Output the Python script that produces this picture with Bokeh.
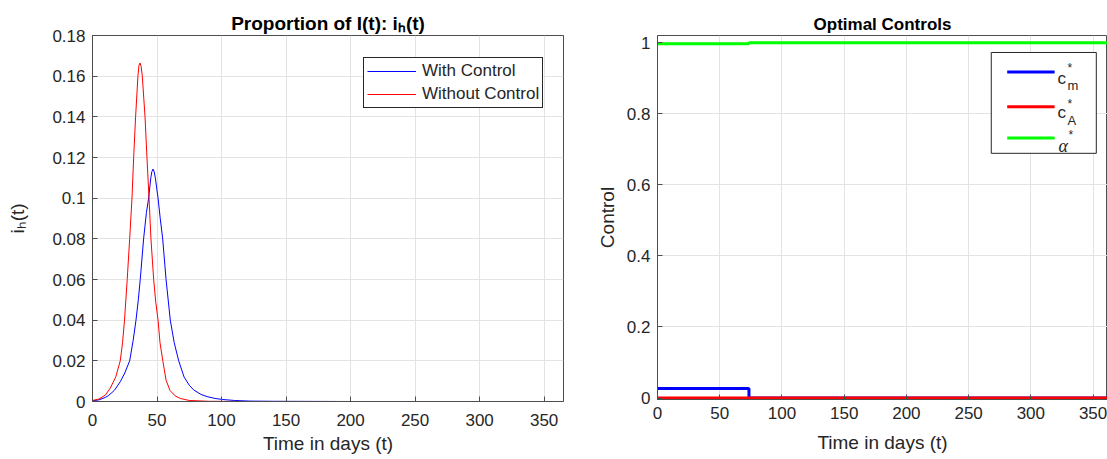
from math import pi
from bokeh.plotting import figure
from bokeh.layouts import row
from bokeh.models import Range1d, FixedTicker, Legend, LegendItem, Label, BoxAnnotation
from bokeh.core.properties import value
from bokeh.embed import file_html
from bokeh.resources import INLINE

# ---------------- data ----------------
# Left panel: proportion of infected humans i_h(t)
t_with = [0, 5, 10, 12.4, 17, 21.5, 25, 28.8, 31.5, 33.7,
          35.5, 37.0, 39.6, 41.8, 43.5, 45.2, 46.0, 46.9, 47.8, 48.7,
          50.8, 52.5, 54.4, 57.0, 60.3, 63.3, 66.8, 71.0, 75.0, 78.4,
          84.0, 88.8, 95.0, 100.5, 110.0, 122.0, 140.0, 200.0, 365.0]
ih_with = [0.0003, 0.0008, 0.0020, 0.0029, 0.0055, 0.0097, 0.0140, 0.0200, 0.0300, 0.0400,
           0.0500, 0.0600, 0.0800, 0.0930, 0.1000, 0.1100, 0.1130, 0.1143, 0.1130, 0.1100,
           0.1000, 0.0900, 0.0800, 0.0600, 0.0400, 0.0290, 0.0200, 0.0120, 0.0080, 0.0057,
           0.0035, 0.0024, 0.0015, 0.0010, 0.0005, 0.0002, 0.0001, 0.0, 0.0]

t_without = [0, 5, 10, 13.7, 18, 21.5, 23.3, 24.8, 26.9, 28.8,
             30.6, 31.9, 33.4, 35.2, 36.0, 36.8, 37.7, 38.6, 40.7, 42.2,
             43.8, 45.3, 47.4, 49.0, 50.8, 52.3, 54.5, 57.0, 60.0, 64.0,
             68.0, 75.0, 90.0, 120.0, 200.0, 365.0]
ih_without = [0.0005, 0.0012, 0.0032, 0.0065, 0.0120, 0.0200, 0.0290, 0.0400, 0.0600, 0.0800,
              0.1000, 0.1200, 0.1400, 0.1600, 0.1652, 0.1665, 0.1648, 0.1600, 0.1400, 0.1200,
              0.1000, 0.0800, 0.0600, 0.0490, 0.0400, 0.0290, 0.0200, 0.0105, 0.0055, 0.0028,
              0.0015, 0.0005, 0.0001, 0.0, 0.0, 0.0]

# Right panel: optimal controls (piecewise constant)
t_ctrl = [0, 73.5, 365]
cm_star = [0.027, 0.0, 0.0]
cA_star = [0.0, 0.0, 0.0]
alpha_star = [0.997, 1.0, 1.0]

x_ticks = [0, 50, 100, 150, 200, 250, 300, 350]
x_tick_labels = ["0", "50", "100", "150", "200", "250", "300", "350"]
ih_ticks = [0, 0.02, 0.04, 0.06, 0.08, 0.1, 0.12, 0.14, 0.16, 0.18]
ih_tick_labels = ["0", "0.02", "0.04", "0.06", "0.08", "0.1", "0.12", "0.14", "0.16", "0.18"]
ctrl_ticks = [0, 0.2, 0.4, 0.6, 0.8, 1]
ctrl_tick_labels = ["0", "0.2", "0.4", "0.6", "0.8", "1"]

# ---------------- style ----------------
FONT = "Liberation Sans"
TXT = "#262626"
AX = "#4d4d4d"
GRID = "#e3e3e3"
BLUE, RED, GREEN = "#0000ff", "#ff0000", "#00ff00"


def make_fig(fw, fh, xr, yr, mbl, mbr, yt, ylabs, xstand, title, tsize, ystand=7):
    p = figure(frame_width=fw, frame_height=fh, x_range=Range1d(*xr), y_range=Range1d(*yr),
               output_backend="svg", toolbar_location=None, title=title,
               min_border_left=mbl, min_border_right=mbr, min_border_top=35, min_border_bottom=40,
               background_fill_color="white", border_fill_color="white")
    p.outline_line_color = AX
    p.outline_line_width = 1
    p.title.text_font = FONT
    p.title.text_font_size = tsize
    p.title.text_font_style = "bold"
    p.title.text_color = "#000000"
    p.title.align = "center"
    p.title.standoff = 4
    xb, yl = p.below[0], p.left[0]
    xb.ticker = FixedTicker(ticks=x_ticks)
    xb.major_label_overrides = {float(k): s for k, s in zip(x_ticks, x_tick_labels)}
    yl.ticker = FixedTicker(ticks=yt)
    yl.major_label_overrides = {float(k): s for k, s in zip(yt, ylabs)}
    for ax in (xb, yl):
        ax.major_tick_in = 5
        ax.major_tick_out = 0
        ax.minor_tick_in = 0
        ax.minor_tick_out = 0
        ax.axis_line_color = AX
        ax.major_tick_line_color = AX
        ax.major_label_text_font = FONT
        ax.major_label_text_font_size = "17px"
        ax.major_label_text_color = TXT
        ax.axis_label_text_font = FONT
        ax.axis_label_text_font_size = "19px"
        ax.axis_label_text_font_style = "normal"
        ax.axis_label_text_color = TXT
    xb.major_label_standoff = xstand
    yl.major_label_standoff = ystand
    p.xgrid.ticker = FixedTicker(ticks=x_ticks)
    p.ygrid.ticker = FixedTicker(ticks=yt)
    p.grid.grid_line_color = GRID
    p.grid.grid_line_width = 1
    return p


def txt(p, x, y, s, size, style="normal", align="left", font=FONT):
    p.add_layout(Label(x=x, y=y, text=s, text_font=font, text_font_size=size,
                       text_font_style=style, text_color=TXT,
                       text_align=align, text_baseline="alphabetic"))


# ---------------- left panel ----------------
p1 = make_fig(471, 366, (0, 365), (0, 0.18), 92, 11, ih_ticks, ih_tick_labels,
              xstand=12, title="Proportion of I(t): i\u2095(t)", tsize="19px")
p1.below[0].axis_label = "Time in days (t)"
p1.below[0].axis_label_standoff = 4
p1.left[0].axis_label = "i\u2095(t)"
p1.left[0].axis_label_standoff = 21

r_with = p1.line(t_with, ih_with, line_color=BLUE, line_width=1)
r_without = p1.line(t_without, ih_without, line_color=RED, line_width=1)

leg = Legend(items=[LegendItem(label=value("With Control"), renderers=[r_with]),
                    LegendItem(label=value("Without Control"), renderers=[r_without])],
             location=(271, 293), orientation="vertical",
             label_text_font=FONT, label_text_font_size="17px", label_text_color=TXT,
             border_line_color=TXT, border_line_width=1, border_line_alpha=1,
             background_fill_color="white", background_fill_alpha=1,
             padding=3, spacing=3, margin=0, glyph_width=49, glyph_height=20,
             label_height=20, label_standoff=6)
p1.add_layout(leg)

# ---------------- right panel ----------------
p2 = make_fig(450, 364, (0, 361.6), (-0.0042, 1.0203), 83, 0, ctrl_ticks, ctrl_tick_labels,
              xstand=7, title="Optimal Controls", tsize="17px")
p2.below[0].axis_label = "Time in days (t)"
p2.below[0].axis_label_standoff = 10
p2.left[0].axis_label = "Control"
p2.left[0].axis_label_standoff = 6

p2.step(t_ctrl, cm_star, mode="after", line_color=BLUE, line_width=3)
p2.step(t_ctrl, cA_star, mode="after", line_color=RED, line_width=3)
p2.step(t_ctrl, alpha_star, mode="after", line_color=GREEN, line_width=3)

# legend (drawn by hand for the sub/superscripts)
p2.add_layout(BoxAnnotation(left=268.2, right=352.6, top=0.9725, bottom=0.6887,
                            fill_color="white", fill_alpha=1.0, line_color=TXT,
                            line_alpha=1.0, line_width=1, level="underlay"))
leg_y = [0.9174, 0.8199, 0.7319]
p2.segment(x0=[281.0] * 3, x1=[319.1] * 3, y0=leg_y, y1=leg_y,
           line_color=[BLUE, RED, GREEN], line_width=3)
txt(p2, 321.5, 0.9005, "c", "17px")
txt(p2, 329.5, 0.9278, "*", "12px")
txt(p2, 329.5, 0.8789, "m", "13px")
txt(p2, 321.5, 0.8030, "c", "17px")
txt(p2, 329.5, 0.8283, "*", "12px")
txt(p2, 329.5, 0.7814, "A", "13px")
txt(p2, 322.3, 0.7103, "α", "18px", "italic", font="Liberation Serif")
txt(p2, 330.3, 0.7404, "*", "12px")

layout = row(p1, p2)
open("out.html", "w").write(file_html(layout, INLINE))
